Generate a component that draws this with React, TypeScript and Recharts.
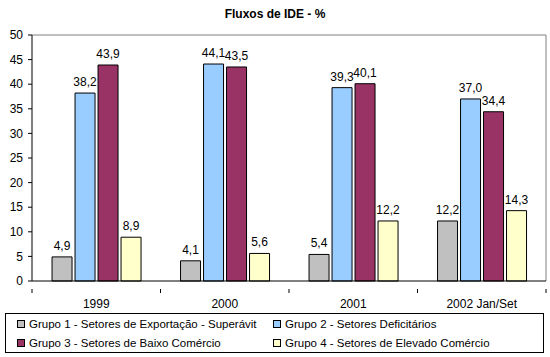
import { Bar, BarChart, CartesianGrid, LabelList, XAxis, YAxis } from "recharts";

const categories = ["1999", "2000", "2001", "2002 Jan/Set"];
const grupo1 = [4.9, 4.1, 5.4, 12.2];
const grupo2 = [38.2, 44.1, 39.3, 37.0];
const grupo3 = [43.9, 43.5, 40.1, 34.4];
const grupo4 = [8.9, 5.6, 12.2, 14.3];
const yTicks = [0, 5, 10, 15, 20, 25, 30, 35, 40, 45, 50];

const series = [
  { key: "g1", name: "Grupo 1 - Setores de Exportação - Superávit", color: "#C0C0C0" },
  { key: "g2", name: "Grupo 2 - Setores Deficitários", color: "#99CCFF" },
  { key: "g3", name: "Grupo 3 - Setores de Baixo Comércio", color: "#993366" },
  { key: "g4", name: "Grupo 4 - Setores de Elevado Comércio", color: "#FFFFCC" },
];

const data = categories.map((cat, i) => ({
  cat,
  g1: grupo1[i],
  g2: grupo2[i],
  g3: grupo3[i],
  g4: grupo4[i],
}));

const FONT = '"Liberation Sans", Arial, sans-serif';
const W = 550;
const H = 357;
const MARGIN = { top: 35, right: 4, left: 0, bottom: 46 };
const Y_WIDTH = 32;
const HALF_BAND = (W - MARGIN.left - MARGIN.right - Y_WIDTH) / categories.length / 2;

const fmt = (v: any) => Number(v).toFixed(1).replace(".", ",");

function CategoryTick(props: any) {
  const { x, y, payload, index } = props;
  const last = index === categories.length - 1;
  return (
    <g>
      <line x1={x - HALF_BAND} x2={x - HALF_BAND} y1={y} y2={y + 4} stroke="#000" />
      {last && <line x1={x + HALF_BAND} x2={x + HALF_BAND} y1={y} y2={y + 4} stroke="#000" />}
      <text x={x} y={y + 19} textAnchor="middle" fontSize={12} fontFamily={FONT} fill="#000">
        {payload.value}
      </text>
    </g>
  );
}

export default function App() {
  return (
    <div style={{ position: "absolute", left: 0, top: 0, width: W, height: H, background: "#fff", fontFamily: FONT }}>
      <div
        style={{
          position: "absolute",
          left: 0,
          width: W,
          top: 7,
          textAlign: "center",
          fontWeight: "bold",
          fontSize: 12,
        }}
      >
        Fluxos de IDE - %
      </div>
      <BarChart
        width={W}
        height={H}
        data={data}
        margin={MARGIN}
        barCategoryGap="15.6%"
        barGap={3}
      >
        <CartesianGrid
          stroke="#808080"
          strokeWidth={1}
          horizontalCoordinatesGenerator={({ offset }: any) => [offset.top]}
          verticalCoordinatesGenerator={({ offset }: any) => [offset.left + offset.width]}
        />
        <XAxis dataKey="cat" height={30} axisLine={{ stroke: "#000" }} tickLine={false} tick={<CategoryTick />} interval={0} />
        <YAxis
          width={Y_WIDTH}
          domain={[0, 50]}
          ticks={yTicks}
          interval={0}
          tickSize={4}
          tickMargin={5}
          axisLine={{ stroke: "#000" }}
          tickLine={{ stroke: "#000" }}
          tick={{ fill: "#000", fontSize: 12, fontFamily: FONT }}
        />
        {series.map((s) => (
          <Bar key={s.key} dataKey={s.key} name={s.name} fill={s.color} stroke="#000" strokeWidth={1} isAnimationActive={false}>
            <LabelList dataKey={s.key} position="top" offset={7} formatter={fmt} fill="#000" fontSize={12} fontFamily={FONT} />
          </Bar>
        ))}
      </BarChart>
      <div
        style={{
          position: "absolute",
          left: 5,
          top: 313,
          width: 539,
          height: 40,
          boxSizing: "border-box",
          border: "1px solid #000",
          fontSize: 11.5,
        }}
      >
        {series.map((s, i) => (
          <div
            key={s.key}
            style={{
              position: "absolute",
              left: i % 2 === 0 ? 11 : 267,
              top: i < 2 ? 3 : 22,
              display: "flex",
              alignItems: "center",
              whiteSpace: "nowrap",
              height: 14,
            }}
          >
            <span
              style={{
                display: "inline-block",
                width: 6,
                height: 6,
                border: "1px solid #000",
                background: s.color,
                marginRight: 4,
              }}
            />
            {s.name}
          </div>
        ))}
      </div>
    </div>
  );
}
